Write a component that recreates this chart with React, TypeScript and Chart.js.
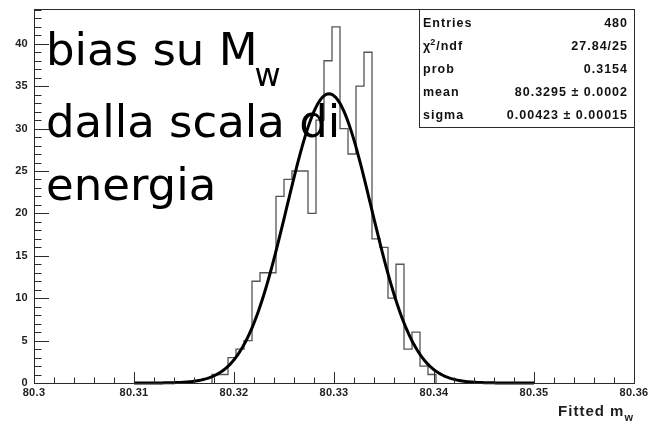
import { useEffect, useRef } from 'react';
import { Chart, registerables } from 'chart.js';

Chart.register(...registerables);

// Histogram of fitted W mass: lower bin edges, the final upper edge, and counts per bin
const BIN_LOW_EDGES = [
  80.3178, 80.3186, 80.3194, 80.3202, 80.321, 80.3218, 80.3226, 80.3234, 80.3242, 80.325,
  80.3258, 80.3266, 80.3274, 80.3282, 80.329, 80.3298, 80.3306, 80.3314, 80.3322, 80.333,
  80.3338, 80.3346, 80.3354, 80.3362, 80.337, 80.3378, 80.3386, 80.3394,
];
const LAST_UPPER_EDGE = 80.3402;
const BIN_COUNTS = [
  1, 1, 3, 4, 5, 12, 13, 13, 22, 24, 25, 25, 20, 31, 38, 42, 30, 27, 35, 39, 17, 16, 10, 14, 4,
  6, 2, 1,
];

const FIT_MEAN = 80.3295;
const FIT_SIGMA = 0.00423;
const FIT_CONSTANT = 34.1;
const FIT_RANGE = [80.31, 80.35];
const FIT_SAMPLES = 240;

// Axes
const X_MIN = 80.3;
const X_MAX = 80.36;
const Y_MIN = 0;
const Y_MAX = 44.1;
const X_TICKS = [80.3, 80.31, 80.32, 80.33, 80.34, 80.35, 80.36];
const X_TICK_LABELS = ['80.3', '80.31', '80.32', '80.33', '80.34', '80.35', '80.36'];
const X_MINOR_STEP = 0.002;
const Y_TICKS = [0, 5, 10, 15, 20, 25, 30, 35, 40];
const Y_TICK_LABELS = ['0', '5', '10', '15', '20', '25', '30', '35', '40'];
const Y_MINOR_STEP = 1;

// Statistics box rows
const STAT_NAMES = ['Entries', 'chi2', 'prob', 'mean', 'sigma'];
const STAT_VALUES = ['480', '27.84/25', '0.3154', '80.3295 \u00b1 0.0002', '0.00423 \u00b1 0.00015'];

const TITLE_LINES = ['bias su M', 'dalla scala di', 'energia'];
const TITLE_SUB = 'w';

const histPoints = (() => {
  const pts: { x: number; y: number }[] = [{ x: BIN_LOW_EDGES[0], y: 0 }];
  BIN_LOW_EDGES.forEach((edge, i) => pts.push({ x: edge, y: BIN_COUNTS[i] }));
  pts.push({ x: LAST_UPPER_EDGE, y: 0 });
  return pts;
})();

const fitPoints = (() => {
  const pts: { x: number; y: number }[] = [];
  const [a, b] = FIT_RANGE;
  for (let i = 0; i <= FIT_SAMPLES; i++) {
    const x = a + ((b - a) * i) / FIT_SAMPLES;
    const z = (x - FIT_MEAN) / FIT_SIGMA;
    pts.push({ x, y: FIT_CONSTANT * Math.exp(-0.5 * z * z) });
  }
  return pts;
})();

const LABEL_FONT = 'bold 11px "Liberation Sans", Arial, sans-serif';
const AXIS_COLOR = '#2b2b2b';

const framePlugin = {
  id: 'rootFrame',
  afterDatasetsDraw(chart: any) {
    const { ctx, chartArea, scales } = chart;
    const xs = scales.x;
    const ys = scales.y;
    const { left, right, top, bottom } = chartArea;
    ctx.save();

    // frame
    ctx.strokeStyle = AXIS_COLOR;
    ctx.lineWidth = 1;
    ctx.strokeRect(Math.round(left) + 0.5, Math.round(top) + 0.5, Math.round(right - left), Math.round(bottom - top));

    // y ticks
    ctx.beginPath();
    for (let v = Y_MIN; v <= Y_MAX + 1e-9; v += Y_MINOR_STEP) {
      const y = Math.round(ys.getPixelForValue(v)) + 0.5;
      const major = Y_TICKS.includes(Math.round(v));
      const len = major ? 15 : 7.5;
      ctx.moveTo(left, y);
      ctx.lineTo(left + len, y);
    }
    // x ticks
    const nMinor = Math.round((X_MAX - X_MIN) / X_MINOR_STEP);
    for (let i = 0; i <= nMinor; i++) {
      const v = X_MIN + i * X_MINOR_STEP;
      const x = Math.round(xs.getPixelForValue(v)) + 0.5;
      const len = i % 5 === 0 ? 11 : 5.5;
      ctx.moveTo(x, bottom);
      ctx.lineTo(x, bottom - len);
    }
    ctx.stroke();

    // tick labels
    ctx.fillStyle = '#1e1e1e';
    ctx.font = LABEL_FONT;
    (ctx as any).letterSpacing = '0.3px';
    ctx.textAlign = 'right';
    ctx.textBaseline = 'middle';
    Y_TICKS.forEach((v, i) => {
      ctx.fillText(Y_TICK_LABELS[i], left - 6, ys.getPixelForValue(v));
    });
    ctx.textAlign = 'center';
    ctx.textBaseline = 'top';
    X_TICKS.forEach((v, i) => {
      ctx.fillText(X_TICK_LABELS[i], xs.getPixelForValue(v), bottom + 4);
    });

    // axis title
    (ctx as any).letterSpacing = '1px';
    ctx.textBaseline = 'alphabetic';
    ctx.textAlign = 'left';
    const sub = 'w';
    ctx.font = 'bold 11px "Liberation Sans", Arial, sans-serif';
    const subW = ctx.measureText(sub).width;
    ctx.font = 'bold 15px "Liberation Sans", Arial, sans-serif';
    const mainW = ctx.measureText('Fitted m').width;
    const tx = right - subW - mainW;
    ctx.fillText('Fitted m', tx, 416);
    ctx.font = 'bold 11px "Liberation Sans", Arial, sans-serif';
    ctx.fillText(sub, tx + mainW, 421);

    // statistics box
    const bx = 419.5;
    const by = Math.round(top) + 0.5;
    const bw = Math.round(right) - 419;
    const bh = 118;
    ctx.fillStyle = '#ffffff';
    ctx.fillRect(bx, by, bw, bh);
    ctx.strokeStyle = AXIS_COLOR;
    ctx.strokeRect(bx, by, bw, bh);
    ctx.fillStyle = '#111';
    const rowY = [24, 47, 70, 93, 116];
    const statFont = 'bold 12.5px "Liberation Sans", Arial, sans-serif';
    ctx.font = statFont;
    (ctx as any).letterSpacing = '1px';
    ctx.textBaseline = 'middle';
    STAT_NAMES.forEach((name, i) => {
      ctx.textAlign = 'left';
      if (name === 'chi2') {
        ctx.fillText('\u03c7', 423, rowY[i]);
        const w1 = ctx.measureText('\u03c7').width;
        ctx.font = 'bold 9px "Liberation Sans", Arial, sans-serif';
        ctx.fillText('2', 423 + w1 - 1, rowY[i] - 4);
        const w2 = ctx.measureText('2').width;
        ctx.font = statFont;
        ctx.fillText('/ndf', 423 + w1 + w2 - 1, rowY[i]);
      } else {
        ctx.fillText(name, 423, rowY[i]);
      }
      ctx.textAlign = 'right';
      ctx.fillText(STAT_VALUES[i], right - 6, rowY[i]);
    });

    // overlay title
    (ctx as any).letterSpacing = '0px';
    ctx.fillStyle = '#000';
    ctx.textAlign = 'left';
    ctx.textBaseline = 'alphabetic';
    ctx.font = '45px "DejaVu Sans", sans-serif';
    ctx.fillText(TITLE_LINES[0], 46, 65);
    const w0 = ctx.measureText(TITLE_LINES[0]).width;
    ctx.fillText(TITLE_LINES[1], 46, 137);
    ctx.fillText(TITLE_LINES[2], 46, 200);
    ctx.font = '32px "DejaVu Sans", sans-serif';
    ctx.fillText(TITLE_SUB, 46 + w0 - 3, 86);

    ctx.restore();
  },
};

export default function App() {
  const ref = useRef<HTMLCanvasElement | null>(null);

  useEffect(() => {
    if (!ref.current) return;
    const chart = new Chart(ref.current, {
      type: 'line',
      data: {
        datasets: [
          {
            data: fitPoints,
            borderColor: '#000000',
            borderWidth: 3,
            pointRadius: 0,
            tension: 0,
            fill: false,
            order: 0,
            clip: 6,
          } as any,
          {
            data: histPoints,
            stepped: 'before',
            borderColor: '#555555',
            borderWidth: 1.3,
            pointRadius: 0,
            fill: false,
            order: 1,
            clip: 4,
          } as any,
        ],
      },
      options: {
        animation: false,
        responsive: false,
        maintainAspectRatio: false,
        events: [],
        layout: { padding: { left: 34, right: 14, top: 9, bottom: 42 } },
        scales: {
          x: { type: 'linear', min: X_MIN, max: X_MAX, display: false },
          y: { type: 'linear', min: Y_MIN, max: Y_MAX, display: false },
        },
        plugins: { legend: { display: false }, tooltip: { enabled: false } },
      },
      plugins: [framePlugin],
    });
    return () => chart.destroy();
  }, []);

  return (
    <div style={{ position: 'fixed', left: 0, top: 0, width: 648, height: 425, background: '#ffffff' }}>
      <canvas ref={ref} width={648} height={425} style={{ display: 'block' }} />
    </div>
  );
}
